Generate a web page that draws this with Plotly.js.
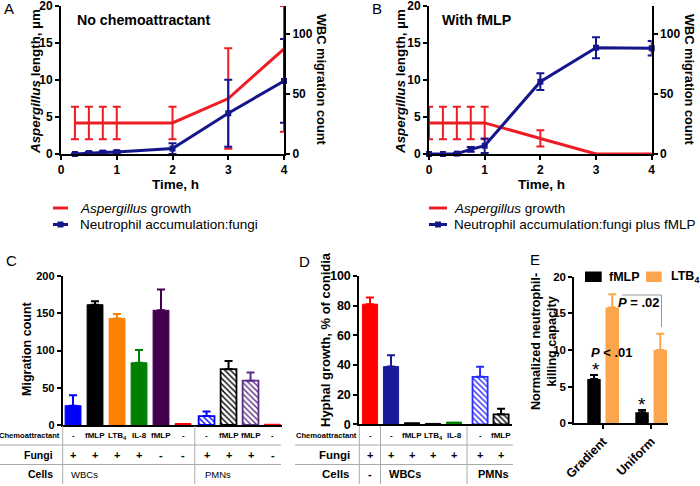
<!DOCTYPE html>
<html><head><meta charset="utf-8">
<script src="https://cdn.plot.ly/plotly-3.0.1.min.js"></script>
<style>body{margin:0;background:#fff}</style>
</head><body><div id="chart" style="width:700px;height:486px"></div>
<script>
// ---------- DATA ----------
// Panel A: no chemoattractant
const timeA = [0.25, 0.5, 0.75, 1, 2, 3, 4];
const aspA = [4.2, 4.2, 4.2, 4.2, 4.2, 7.5, 14.2];
const aspAErrUp = [2.2, 2.2, 2.2, 2.2, 2.2, 6.8, 5.8];
const aspAErrDown = [2.2, 2.2, 2.2, 2.2, 2.2, 6.8, 11.2];
const wbcA = [0, 0.8, 1.2, 1.6, 4.5, 34, 61];
const wbcAErr = [0.5, 0.8, 1, 1.2, 4.5, 28, 35];
// Panel B: with fMLP
const timeB = [0, 0.25, 0.5, 0.75, 1, 2, 3, 4];
const aspB = [4.2, 4.2, 4.2, 4.2, 4.2, 2.1, 0, 0];
const aspBErr = [2.2, 2.2, 2.2, 2.2, 2.2, 1.1, 0, 0];
const wbcB = [0, 0, 0.3, 3.9, 6.9, 60.4, 88.8, 88.3];
const wbcBErr = [0, 0, 0.5, 2, 6, 7, 8.8, 6];
// Panel C: migration count
const chemoC = ['-', 'fMLP', 'LTB<sub>4</sub>', 'IL-8', 'fMLP', '-', '-', 'fMLP', 'fMLP', '-'];
const fungiC = ['+', '+', '+', '+', '-', '-', '+', '+', '+', '-'];
const cellsC = ['WBCs', 'WBCs', 'WBCs', 'WBCs', 'WBCs', 'WBCs', 'PMNs', 'PMNs', 'PMNs', 'PMNs'];
const migC = [26, 161.5, 143, 83.6, 154, 2, 12, 75, 59.5, 1];
const migCErr = [14, 4.5, 6, 17, 28, 0, 6, 11, 11, 0];
// Panel D: hyphal growth
const chemoD = ['-', '-', 'fMLP', 'LTB<sub>4</sub>', 'IL-8', '-', 'fMLP'];
const fungiD = ['+', '+', '+', '+', '+', '+', '+'];
const cellsD = ['-', 'WBCs', 'WBCs', 'WBCs', 'WBCs', 'PMNs', 'PMNs'];
const hyphD = [81, 38.9, 1, 0.6, 1.5, 32, 6.7];
const hyphDErr = [4.5, 7.6, 0, 0, 0, 6.8, 3.8];
// Panel E: killing capacity
const condE = ['Gradient', 'Uniform'];
const fmlpE = [6.05, 1.5];
const fmlpEErr = [0.55, 0.3];
const ltbE = [15.8, 10.0];
const ltbEErr = [1.8, 2.2];

// ---------- STYLES ----------
const FONT = 'Liberation Sans, Arial, Helvetica, sans-serif';
const RED = '#ee1c25', NAVY = '#16168c';
const colorsC = ['#0000ff', '#000000', '#ff8000', '#008000', '#44004f', '#ff0000', '#0000ff', '#000000', '#5b2c83', '#ff0000'];
const hatchC = [false, false, false, false, false, false, true, true, true, false];
const colorsD = ['#ff0000', '#1a1a99', '#000000', '#000000', '#008000', '#2b2bff', '#000000'];
const hatchD = [false, false, false, false, false, true, true];
const ORANGE_E = '#fba54c';

const W = 700, H = 486;
const px = v => v / W, py = v => 1 - v / H;
const tfont = s => ({family: FONT, size: s, color: '#000', weight: 'bold'});

const axisBase = {showline: true, linecolor: '#000', linewidth: 2, ticks: 'outside', ticklen: 4,
  tickwidth: 2, tickcolor: '#000', showgrid: false, zeroline: false, fixedrange: true, ticklabeloverflow: 'allow',
  tickfont: tfont(12)};
const ax = o => Object.assign({}, axisBase, o);

const traces = [];
const annotations = [];
const shapes = [];

function ann(x, y, text, o) {
  annotations.push(Object.assign({xref: 'paper', yref: 'paper', x: px(x), y: py(y), text: text,
    xanchor: 'center', yanchor: 'middle', showarrow: false,
    font: {family: FONT, size: 12, color: '#000'}}, o || {}));
}
function line(x0, y0, x1, y1, color, width) {
  shapes.push({type: 'line', xref: 'paper', yref: 'paper', x0: px(x0), y0: py(y0), x1: px(x1), y1: py(y1),
    line: {color: color, width: width}});
}

// ---------- A & B line charts ----------
function lineChart(xa, ya, ya2, t, asp, aspUp, aspDown, tw, wbc, wbcErr) {
  traces.push({type: 'scatter', x: t, y: asp, xaxis: xa, yaxis: ya, mode: 'lines',
    line: {color: RED, width: 3}, cliponaxis: false, hoverinfo: 'skip',
    error_y: {type: 'data', symmetric: false, array: aspUp, arrayminus: aspDown, color: RED, thickness: 2, width: 4}});
  traces.push({type: 'scatter', x: tw, y: wbc, xaxis: xa, yaxis: ya2, mode: 'lines+markers',
    line: {color: NAVY, width: 3}, marker: {symbol: 'square', size: 6, color: NAVY}, cliponaxis: false, hoverinfo: 'skip',
    error_y: {type: 'data', array: wbcErr, color: NAVY, thickness: 2, width: 4}});
}
lineChart('x', 'y', 'y2', timeA, aspA, aspAErrUp, aspAErrDown, timeA, wbcA, wbcAErr);
lineChart('x2', 'y3', 'y4', timeB, aspB, aspBErr, aspBErr, timeB, wbcB, wbcBErr);

// ---------- bar charts C & D ----------
function positions(cells, gap) {
  return cells.map((c, i) => i + (c === 'PMNs' ? gap : 0));
}
const posC = positions(cellsC, 0.07);
const posD = positions(cellsD, 0.24);

function bars(xa, ya, pos, vals, errs, colors, hatch) {
  vals.forEach((v, i) => {
    const m = {color: colors[i], line: {color: colors[i], width: hatch[i] ? 1.8 : 1}};
    if (hatch[i]) m.pattern = {shape: '\\', fgcolor: colors[i], bgcolor: '#ffffff', size: 4, solidity: 0.35, fillmode: 'replace'};
    const tr = {type: 'bar', x: [pos[i]], y: [v], xaxis: xa, yaxis: ya, width: 0.72, marker: m,
      hoverinfo: 'skip', showlegend: false};
    if (errs[i] > 0) tr.error_y = {type: 'data', symmetric: false, array: [errs[i]], arrayminus: [0],
      color: colors[i], thickness: 2, width: 4};
    traces.push(tr);
  });
}
bars('x3', 'y5', posC, migC, migCErr, colorsC, hatchC);
bars('x4', 'y6', posD, hyphD, hyphDErr, colorsD, hatchD);

// table under bar charts
function table(xa, pos, chemo, fungi, cells, o) {
  const rowY = [435.7, 455, 474.3];
  chemo.forEach((c, i) => annotations.push({xref: xa, yref: 'paper', x: pos[i], y: py(rowY[0]), text: c,
    xanchor: 'center', yanchor: 'middle', showarrow: false, font: tfont(8)}));
  fungi.forEach((f, i) => annotations.push({xref: xa, yref: 'paper', x: pos[i], y: py(rowY[1]), text: f,
    xanchor: 'center', yanchor: 'middle', showarrow: false, font: tfont(11)}));
  cells.forEach((c, i) => {
    if (i === 0 || cells[i - 1] !== c) {
      annotations.push({xref: xa, yref: 'paper', x: pos[i], y: py(rowY[2]), text: c, xanchor: 'left', yanchor: 'middle', xshift: -4,
        showarrow: false, font: {family: FONT, size: o.cellSize, color: '#000', weight: o.cellWeight}});
      if (i > 0) shapes.push({type: 'line', xref: xa, yref: 'paper', x0: (pos[i] + pos[i - 1]) / 2, x1: (pos[i] + pos[i - 1]) / 2,
        y0: py(426), y1: py(484), line: {color: '#aaa', width: 1}});
    }
  });
  ann(o.labelRight + 1.5, rowY[0], 'Chemoattractant', {xanchor: 'right', font: tfont(7.6)});
  ann(o.labelRight - 5, rowY[1], 'Fungi', {xanchor: 'right', font: tfont(o.rowSize)});
  ann(o.labelRight - 5, rowY[2], 'Cells', {xanchor: 'right', font: tfont(o.rowSize)});
  line(o.x0, 445, o.x1, 445, '#aaa', 1);
  line(o.x0, 464.5, o.x1, 464.5, '#aaa', 1);
  line(o.axisX, 426, o.axisX, 484, '#aaa', 1);
}
table('x3', posC, chemoC, fungiC, cellsC, {labelRight: 60, x0: 0, x1: 281, axisX: 62.7, cellSize: 9.5, cellWeight: 'normal', rowSize: 10.5});
table('x4', posD, chemoD, fungiD, cellsD, {labelRight: 357, x0: 295, x1: 513, axisX: 359.3, cellSize: 11, cellWeight: 'bold', rowSize: 11.5});

// ---------- E grouped bars ----------
traces.push({type: 'bar', x: [0, 1], y: fmlpE, xaxis: 'x5', yaxis: 'y7', width: 0.28, offset: -0.33,
  marker: {color: '#000', line: {width: 0}}, hoverinfo: 'skip', showlegend: false,
  error_y: {type: 'data', symmetric: false, array: fmlpEErr, arrayminus: [0, 0], color: '#000', thickness: 2, width: 4}});
traces.push({type: 'bar', x: [0, 1], y: ltbE, xaxis: 'x5', yaxis: 'y7', width: 0.28, offset: 0.05,
  marker: {color: ORANGE_E, line: {width: 0}}, hoverinfo: 'skip', showlegend: false,
  error_y: {type: 'data', symmetric: false, array: ltbEErr, arrayminus: [0, 0], color: ORANGE_E, thickness: 2, width: 4}});

// ---------- text: panel labels, titles, legends ----------
const lbl = {family: FONT, size: 15, color: '#000'};
ann(9, 8, 'A', {font: lbl});
ann(377, 8, 'B', {font: lbl});
ann(11, 260, 'C', {font: lbl});
ann(304, 261, 'D', {font: lbl});
ann(535, 259, 'E', {font: lbl});

ann(35, 82, '<i>Aspergillus</i> length, µm', {textangle: -90, font: tfont(13.4)});
ann(322, 80, 'WBC migration count', {textangle: 90, font: tfont(12.8)});
ann(400, 82, '<i>Aspergillus</i> length, µm', {textangle: -90, font: tfont(13.4)});
ann(690, 80, 'WBC migration count', {textangle: 90, font: tfont(12.8)});
ann(175, 184, 'Time, h', {font: tfont(13.5)});
ann(541, 184, 'Time, h', {font: tfont(13.5)});
ann(75, 20, 'No chemoattractant', {xanchor: 'left', font: tfont(14.2)});
ann(440, 20, 'With fMLP', {xanchor: 'left', font: tfont(14.2)});
ann(27, 349, 'Migration count', {textangle: -90, font: tfont(12.5)});
ann(325, 340, 'Hyphal growth, % of conidia', {textangle: -90, font: tfont(13)});
ann(544, 342, 'Normalized neutrophil-<br>killing capacity', {textangle: -90, font: tfont(12.6)});

// legends A and B
const lf = {family: FONT, size: 13.5, color: '#000'};
[[53, 68, 78, 'Neutrophil accumulation:fungi'], [429, 447, 452, 'Neutrophil accumulation:fungi plus fMLP']].forEach(l => {
  line(l[0], 208, l[1], 208, RED, 3);
  line(l[0], 224.5, l[1], 224.5, NAVY, 3);
  shapes.push({type: 'rect', xref: 'paper', yref: 'paper', x0: px((l[0] + l[1]) / 2 - 3), x1: px((l[0] + l[1]) / 2 + 3),
    y0: py(221.5), y1: py(227.5), fillcolor: NAVY, line: {width: 0}});
  ann(l[2], 208, '<i>Aspergillus</i> growth', {xanchor: 'left', font: lf});
  ann(l[2], 224.5, l[3], {xanchor: 'left', font: lf});
});

// legend E
shapes.push({type: 'rect', xref: 'paper', yref: 'paper', x0: px(585), x1: px(601.7), y0: py(282), y1: py(271.5), fillcolor: '#000', line: {width: 0}});
shapes.push({type: 'rect', xref: 'paper', yref: 'paper', x0: px(646), x1: px(661.7), y0: py(282), y1: py(271.5), fillcolor: ORANGE_E, line: {width: 0}});
ann(607, 276.5, 'fMLP', {xanchor: 'left', font: tfont(12.5)});
ann(669, 276.5, 'LTB<sub>4</sub>', {xanchor: 'left', font: tfont(12.5)});

// E significance marks
line(622, 295, 661.5, 295, '#999', 1);
line(661.5, 295, 661.5, 327, '#999', 1);
ann(639, 302, '<i>P</i> = .02', {font: tfont(13)});
ann(612, 352, '<i>P</i> &lt; .01', {font: tfont(13)});
ann(596, 369, '*', {font: {family: FONT, size: 19, color: '#000'}});
ann(642, 404, '*', {font: {family: FONT, size: 19, color: '#000'}});

// ---------- LAYOUT ----------
const yTopAB = py(6), yBotAB = py(154);
const layout = {
  width: W, height: H, margin: {l: 0, r: 0, t: 0, b: 0}, paper_bgcolor: '#fff', plot_bgcolor: 'rgba(0,0,0,0)',
  showlegend: false, barmode: 'overlay', font: {family: FONT, color: '#000'},
  xaxis: ax({domain: [px(61), px(284)], range: [0, 4], tickvals: [0, 1, 2, 3, 4], anchor: 'y'}),
  yaxis: ax({domain: [yBotAB, yTopAB], range: [0, 20], tickvals: [0, 5, 10, 15, 20], anchor: 'x'}),
  yaxis2: ax({overlaying: 'y', side: 'right', range: [0, 123.6], tickvals: [0, 50, 100], anchor: 'x'}),
  xaxis2: ax({domain: [px(429), px(651.7)], range: [0, 4], tickvals: [0, 1, 2, 3, 4], anchor: 'y3'}),
  yaxis3: ax({domain: [yBotAB, yTopAB], range: [0, 20], tickvals: [0, 5, 10, 15, 20], anchor: 'x2'}),
  yaxis4: ax({overlaying: 'y3', side: 'right', range: [0, 123.6], tickvals: [0, 50, 100], anchor: 'x2'}),
  xaxis3: ax({domain: [px(62.7), px(282)], range: [-0.47, 9.5], ticks: '', showticklabels: false, anchor: 'y5'}),
  yaxis5: ax({domain: [py(425), py(276)], range: [0, 200], tickvals: [0, 50, 100, 150, 200], anchor: 'x3', tickfont: tfont(11)}),
  xaxis4: ax({domain: [px(359.3), px(512)], range: [-0.51, 6.76], ticks: '', showticklabels: false, anchor: 'y6'}),
  yaxis6: ax({domain: [py(424.3), py(276)], range: [0, 100], tickvals: [0, 20, 40, 60, 80, 100], anchor: 'x4', tickfont: tfont(12.5)}),
  xaxis5: ax({domain: [px(574.3), px(668)], range: [-0.6, 1.35], tickvals: [0, 1], ticktext: condE, tickangle: -45, anchor: 'y7', tickfont: tfont(12.5)}),
  yaxis7: ax({domain: [py(423.3), py(276.7)], range: [0, 20], tickvals: [0, 5, 10, 15, 20], anchor: 'x5', tickfont: tfont(11.5)}),
  annotations: annotations, shapes: shapes
};
Plotly.newPlot('chart', traces, layout, {displayModeBar: false, staticPlot: true});
</script></body></html>
